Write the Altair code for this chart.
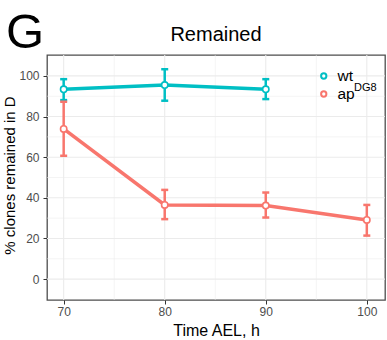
import altair as alt
import pandas as pd

# ---- data ----
wt_time = [70, 80, 90]
wt_mean = [93.4, 95.5, 93.4]
wt_lo = [88.1, 87.8, 88.6]
wt_hi = [98.4, 103.3, 98.4]

ap_time = [70, 80, 90, 100]
ap_mean = [73.9, 36.5, 36.2, 29.1]
ap_lo = [60.7, 29.5, 30.3, 21.4]
ap_hi = [87.3, 43.9, 42.6, 36.5]

groups = ["wt", "ap"]
colors = ["#00BFC4", "#F8766D"]
x_ticks = [70, 80, 90, 100]
y_ticks = [0, 20, 40, 60, 80, 100]
x_grid = [70, 75, 80, 85, 90, 95, 100]
y_grid = [0, 10, 20, 30, 40, 50, 60, 70, 80, 90, 100]

rows = []
for t, m, lo, hi in zip(wt_time, wt_mean, wt_lo, wt_hi):
    rows.append({"time": t, "mean": m, "lo": lo, "hi": hi, "group": "wt"})
for t, m, lo, hi in zip(ap_time, ap_mean, ap_lo, ap_hi):
    rows.append({"time": t, "mean": m, "lo": lo, "hi": hi, "group": "ap"})
df = pd.DataFrame(rows)

FONT = "Liberation Sans"
xscale = alt.Scale(domain=[68.35, 101.8], nice=False, zero=False)
yscale = alt.Scale(domain=[-10.3, 110.3], nice=False, zero=False)
cscale = alt.Scale(domain=groups, range=colors)

legend = alt.Legend(
    title=None, orient="none", legendX=269, legendY=13,
    symbolType="circle", symbolSize=28, symbolStrokeWidth=2,
    symbolFillColor="white", labelFont=FONT, labelFontSize=15.5,
    labelColor="black", labelOffset=6, rowPadding=1, clipHeight=16,
)

xaxis = alt.Axis(
    values=x_ticks, grid=False, domain=False, tickColor="#333333",
    tickSize=4, labelFont=FONT, labelFontSize=12, labelColor="#4D4D4D",
    labelPadding=2, title="Time AEL, h", titleFont=FONT, titleFontSize=16,
    titleFontWeight="normal", titleColor="black", titleBaseline="alphabetic",
    titleX=169, titleY=35, titleAlign="center",
)
yaxis = alt.Axis(
    values=y_ticks, grid=False, domain=False, tickColor="#333333",
    tickSize=4, labelFont=FONT, labelFontSize=12, labelColor="#4D4D4D",
    labelPadding=4, title="% clones remained in D", titleFont=FONT,
    titleFontSize=15, titleFontWeight="normal", titleColor="black",
    titleBaseline="alphabetic", titleX=-33, titleY=120, titleAngle=270,
    titleAlign="center",
)

gx = alt.Chart(pd.DataFrame({"v": x_grid})).mark_rule(color="#EBEBEB").encode(
    x=alt.X("v:Q", scale=xscale, axis=xaxis),
    strokeWidth=alt.condition("datum.v % 10 == 0", alt.value(1.1), alt.value(0.55)),
)
gy = alt.Chart(pd.DataFrame({"v": y_grid})).mark_rule(color="#EBEBEB").encode(
    y=alt.Y("v:Q", scale=yscale, axis=yaxis),
    strokeWidth=alt.condition("datum.v % 20 == 0", alt.value(1.1), alt.value(0.55)),
)

base = alt.Chart(df)
stroke = alt.Stroke("group:N", scale=cscale, legend=legend, sort=groups)

line = base.mark_line(strokeWidth=3.5).encode(
    x=alt.X("time:Q", scale=xscale),
    y=alt.Y("mean:Q", scale=yscale),
    stroke=stroke,
    detail="group:N",
)
err = base.mark_rule(strokeWidth=2.5).encode(
    x=alt.X("time:Q", scale=xscale),
    y=alt.Y("lo:Q", scale=yscale),
    y2="hi:Q",
    stroke=stroke,
)
cap_lo = base.mark_rule(strokeWidth=2.5, xOffset=-3.5, x2Offset=3.5).encode(
    x=alt.X("time:Q", scale=xscale), x2="time:Q",
    y=alt.Y("lo:Q", scale=yscale), stroke=stroke,
)
cap_hi = base.mark_rule(strokeWidth=2.5, xOffset=-3.5, x2Offset=3.5).encode(
    x=alt.X("time:Q", scale=xscale), x2="time:Q",
    y=alt.Y("hi:Q", scale=yscale), stroke=stroke,
)
pts = base.mark_point(filled=False, fill="white", fillOpacity=1, size=40,
                      strokeWidth=1.6, opacity=1).encode(
    x=alt.X("time:Q", scale=xscale),
    y=alt.Y("mean:Q", scale=yscale),
    stroke=stroke,
)

sup = alt.Chart(pd.DataFrame({"t": ["DG8"]})).mark_text(
    font=FONT, fontSize=11, align="left", baseline="alphabetic", color="black"
).encode(text="t:N", x=alt.value(307), y=alt.value(35.5))

gletter = alt.Chart(pd.DataFrame({"t": ["G"]})).mark_text(
    font=FONT, fontSize=49, align="left", baseline="alphabetic", color="black"
).encode(text="t:N", x=alt.value(-41), y=alt.value(-7))

title = alt.Chart(pd.DataFrame({"t": ["Remained"]})).mark_text(
    font=FONT, fontSize=20, align="center", baseline="alphabetic", color="black"
).encode(text="t:N", x=alt.value(169), y=alt.value(-14))

chart = alt.layer(gx, gy, line, err, cap_lo, cap_hi, pts, sup, gletter, title).properties(
    width=338, height=245,
    autosize=alt.AutoSizeParams(type="none"),
    padding={"left": 47, "top": 55, "right": 2, "bottom": 40},
).configure_view(stroke="#4D4D4D", strokeWidth=1.3)

chart.save("out.html", embed_options={"renderer": "svg", "actions": False})
